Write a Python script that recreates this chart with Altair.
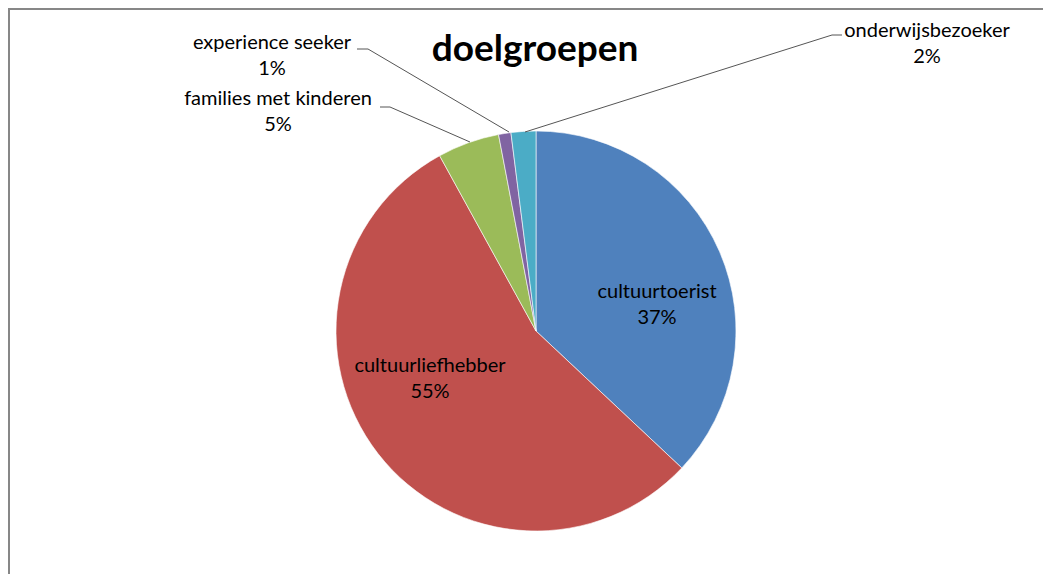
import altair as alt
import pandas as pd

categories = ["cultuurtoerist", "cultuurliefhebber", "families met kinderen",
              "experience seeker", "onderwijsbezoeker"]
shares = [37, 55, 5, 1, 2]
pct_labels = ["37%", "55%", "5%", "1%", "2%"]
colors = ["#4F81BD", "#C0504D", "#9BBB59", "#8064A2", "#4BACC6"]
title_text = "doelgroepen"

df = pd.DataFrame({
    "cat": categories,
    "share": shares,
    "pct": pct_labels,
    "order": list(range(len(categories))),
})
df["label"] = df["cat"] + "\n" + df["pct"]

W, H = 1035, 566
OFF = 8  # page margin
CX, CY, R = 536 - OFF, 331 - OFF, 200
FONT = "Lato"
FS = 20

pie = alt.Chart(df).mark_arc(radius=R, stroke="white", strokeWidth=0.6).encode(
    theta=alt.Theta("share:Q", stack=True),
    order=alt.Order("order:Q"),
    color=alt.Color("cat:N", scale=alt.Scale(domain=categories, range=colors), legend=None),
    x=alt.value(CX),
    y=alt.value(CY),
)

# label layout (page coordinates: centre x, first-line middle y)
label_pos = {
    "cultuurtoerist": (657, 292),
    "cultuurliefhebber": (430, 366),
    "families met kinderen": (278, 99),
    "experience seeker": (272, 43),
    "onderwijsbezoeker": (927, 31),
}

layers = [pie]
for cat, (px, py) in label_pos.items():
    layers.append(
        alt.Chart(df).transform_filter(alt.datum.cat == cat).mark_text(
            font=FONT, fontSize=FS, color="#000000", align="center",
            baseline="middle", lineBreak="\n", lineHeight=26,
        ).encode(text="label:N", x=alt.value(px - OFF), y=alt.value(py - OFF))
    )

one = pd.DataFrame({"k": [0]})
segments = [
    ((357, 49), (368, 49)), ((368, 49), (509, 132)),
    ((380, 107), (390, 107)), ((390, 107), (470, 142)),
    ((842, 35), (832, 35)), ((832, 35), (525, 132)),
]
for (x1, y1), (x2, y2) in segments:
    layers.append(
        alt.Chart(one).mark_rule(color="#555555", strokeWidth=1).encode(
            x=alt.value(x1 - OFF), y=alt.value(y1 - OFF),
            x2=alt.value(x2 - OFF), y2=alt.value(y2 - OFF),
        )
    )

title = alt.Chart(one).mark_text(
    text=title_text, font=FONT, fontSize=37, fontWeight="bold", color="#000000",
    align="center", baseline="middle",
).encode(x=alt.value(535 - OFF), y=alt.value(50 - OFF))
layers.append(title)

# chart frame (only top and left edges visible in the reference)
layers.append(alt.Chart(one).mark_rule(color="#878787", strokeWidth=2).encode(
    x=alt.value(1), y=alt.value(0), y2=alt.value(H)))
layers.append(alt.Chart(one).mark_rule(color="#878787", strokeWidth=2).encode(
    x=alt.value(0), x2=alt.value(W), y=alt.value(1)))

chart = alt.layer(*layers).properties(
    width=W, height=H, padding=0,
    autosize=alt.AutoSizeParams(type="none"),
).configure_view(stroke=None, strokeWidth=0).configure(background="white")

chart.save("out.html", embed_options={"renderer": "svg", "actions": False})
